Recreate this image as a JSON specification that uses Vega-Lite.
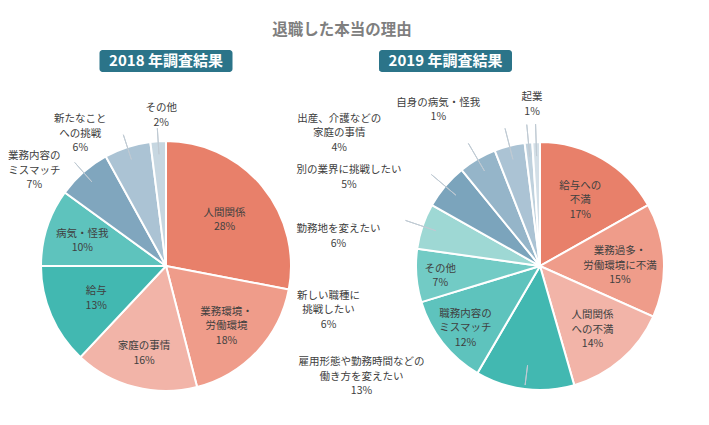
{
  "$schema": "https://vega.github.io/schema/vega-lite/v6.json",
  "background": "white",
  "padding": {"left": 5, "top": 22, "right": 3, "bottom": 0},
  "config": {
    "view": {"stroke": null},
    "font": "Noto Sans CJK JP",
    "text": {"font": "Noto Sans CJK JP", "fontSize": 10.5, "color": "#404040", "lineBreak": "\n", "lineHeight": 14.5, "align": "center", "baseline": "middle"}
  },
  "title": {"text": "退職した本当の理由", "fontSize": 15.5, "fontWeight": "bold", "color": "#7F7F7F", "font": "Noto Sans CJK JP", "anchor": "middle", "dx": -11, "offset": 12},
  "datasets": {
    "y2018": [
      {"k": "人間関係", "lab": "人間関係", "v": 28, "o": 1},
      {"k": "業務環境・労働環境", "lab": "業務環境・\n労働環境", "v": 18, "o": 2},
      {"k": "家庭の事情", "lab": "家庭の事情", "v": 16, "o": 3},
      {"k": "給与", "lab": "給与", "v": 13, "o": 4},
      {"k": "病気・怪我", "lab": "病気・怪我", "v": 10, "o": 5},
      {"k": "業務内容のミスマッチ", "lab": "業務内容の\nミスマッチ", "v": 7, "o": 6},
      {"k": "新たなことへの挑戦", "lab": "新たなこと\nへの挑戦", "v": 6, "o": 7},
      {"k": "その他", "lab": "その他", "v": 2, "o": 8}
    ],
    "y2019": [
      {"k": "給与への不満", "lab": "給与への\n不満", "v": 17, "o": 1},
      {"k": "業務過多・労働環境に不満", "lab": "業務過多・\n労働環境に不満", "v": 15, "o": 2},
      {"k": "人間関係への不満", "lab": "人間関係\nへの不満", "v": 14, "o": 3},
      {"k": "雇用形態や勤務時間などの働き方を変えたい", "lab": "雇用形態や勤務時間などの\n働き方を変えたい", "v": 13, "o": 4},
      {"k": "職務内容のミスマッチ", "lab": "職務内容の\nミスマッチ", "v": 12, "o": 5},
      {"k": "その他", "lab": "その他", "v": 7, "o": 6},
      {"k": "新しい職種に挑戦したい", "lab": "新しい職種に\n挑戦したい", "v": 6, "o": 7},
      {"k": "勤務地を変えたい", "lab": "勤務地を変えたい", "v": 6, "o": 8},
      {"k": "別の業界に挑戦したい", "lab": "別の業界に挑戦したい", "v": 5, "o": 9},
      {"k": "出産、介護などの家庭の事情", "lab": "出産、介護などの\n家庭の事情", "v": 4, "o": 10},
      {"k": "自身の病気・怪我", "lab": "自身の病気・怪我", "v": 1, "o": 11},
      {"k": "起業", "lab": "起業", "v": 1, "o": 12}
    ]
  },
  "concat": [
    {
      "width": 133, "height": 22,
      "view": {"fill": "#2B7489", "stroke": null, "cornerRadius": 3},
      "data": {"values": [{"h": "2018 年調査結果"}]},
      "mark": {"type": "text", "color": "white", "fontSize": 15, "fontWeight": "bold"},
      "encoding": {"text": {"field": "h"}}
    },
    {
      "width": 133, "height": 22,
      "view": {"fill": "#2B7489", "stroke": null, "cornerRadius": 3},
      "data": {"values": [{"h": "2019 年調査結果"}]},
      "mark": {"type": "text", "color": "white", "fontSize": 15, "fontWeight": "bold"},
      "encoding": {"text": {"field": "h"}}
    },
    {
      "width": 322, "height": 300,
      "data": {"name": "y2018"},
      "transform": [
        {"stack": "v", "groupby": [], "sort": [{"field": "o", "order": "ascending"}], "as": ["v0", "v1"]},
        {"calculate": "(datum.v0 + datum.v1) / 2", "as": "mid"},
        {"calculate": "datum.lab + '\\n' + datum.v + '%'", "as": "label"}
      ],
      "layer": [
        {
          "mark": {"type": "arc", "radius": 125, "stroke": "white", "strokeWidth": 2},
          "encoding": {
            "theta": {"field": "v0", "type": "quantitative", "scale": {"domain": [0, 100]}},
            "theta2": {"field": "v1"},
            "color": {"field": "k", "type": "nominal", "legend": null,
              "scale": {"domain": ["人間関係", "業務環境・労働環境", "家庭の事情", "給与", "病気・怪我", "業務内容のミスマッチ", "新たなことへの挑戦", "その他"],
                        "range": ["#E8806A", "#EF9C8A", "#F2B4A8", "#42B8B1", "#5EC3BD", "#80A6BE", "#ABC3D4", "#C7D7E1"]}}
          }
        },
        {
          "transform": [{"filter": {"field": "k", "oneOf": ["業務内容のミスマッチ", "新たなことへの挑戦", "その他"]}}],
          "mark": {"type": "arc", "radius": 138, "radius2": 112, "filled": false, "stroke": "#BFCAD3", "strokeWidth": 1},
          "encoding": {
            "theta": {"field": "mid", "type": "quantitative", "scale": {"domain": [0, 100]}},
            "theta2": {"field": "mid"}
          }
        },
        {
          "transform": [{"filter": {"field": "k", "oneOf": ["人間関係", "給与"]}}],
          "mark": {"type": "text", "radius": 76, "dy": -5},
          "encoding": {
            "theta": {"field": "mid", "type": "quantitative", "scale": {"domain": [0, 100]}},
            "text": {"field": "label"}
          }
        },
        {
          "transform": [{"filter": {"field": "k", "oneOf": ["家庭の事情", "病気・怪我"]}}],
          "mark": {"type": "text", "radius": 88, "dy": -5},
          "encoding": {
            "theta": {"field": "mid", "type": "quantitative", "scale": {"domain": [0, 100]}},
            "text": {"field": "label"}
          }
        },
        {
          "transform": [{"filter": {"field": "k", "equal": "業務環境・労働環境"}}],
          "mark": {"type": "text", "radius": 83, "dy": -11},
          "encoding": {
            "theta": {"field": "mid", "type": "quantitative", "scale": {"domain": [0, 100]}},
            "text": {"field": "label"}
          }
        },
        {
          "transform": [{"filter": {"field": "k", "equal": "業務内容のミスマッチ"}}],
          "mark": {"type": "text", "radius": 125, "dx": -49, "dy": -16},
          "encoding": {"theta": {"field": "mid", "type": "quantitative", "scale": {"domain": [0, 100]}}, "text": {"field": "label"}}
        },
        {
          "transform": [{"filter": {"field": "k", "equal": "新たなことへの挑戦"}}],
          "mark": {"type": "text", "radius": 125, "dx": -47, "dy": -28},
          "encoding": {"theta": {"field": "mid", "type": "quantitative", "scale": {"domain": [0, 100]}}, "text": {"field": "label"}}
        },
        {
          "transform": [{"filter": {"field": "k", "equal": "その他"}}],
          "mark": {"type": "text", "radius": 125, "dx": 3, "dy": -33},
          "encoding": {"theta": {"field": "mid", "type": "quantitative", "scale": {"domain": [0, 100]}}, "text": {"field": "label"}}
        }
      ]
    },
    {
      "width": 322, "height": 300,
      "data": {"name": "y2019"},
      "transform": [
        {"stack": "v", "groupby": [], "sort": [{"field": "o", "order": "ascending"}], "as": ["v0", "v1"]},
        {"calculate": "(datum.v0 + datum.v1) / 2", "as": "mid"},
        {"calculate": "datum.lab + '\\n' + datum.v + '%'", "as": "label"}
      ],
      "layer": [
        {
          "mark": {"type": "arc", "radius": 124, "stroke": "white", "strokeWidth": 2},
          "encoding": {
            "theta": {"field": "v0", "type": "quantitative", "scale": {"domain": [0, 101]}},
            "theta2": {"field": "v1"},
            "color": {"field": "k", "type": "nominal", "legend": null,
              "scale": {"domain": ["給与への不満", "業務過多・労働環境に不満", "人間関係への不満", "雇用形態や勤務時間などの働き方を変えたい", "職務内容のミスマッチ", "その他", "新しい職種に挑戦したい", "勤務地を変えたい", "別の業界に挑戦したい", "出産、介護などの家庭の事情", "自身の病気・怪我", "起業"],
                        "range": ["#E8806A", "#EF9C8A", "#F2B4A8", "#42B8B1", "#5EC3BD", "#72CBC5", "#9ED8D4", "#7BA4BC", "#95B5C9", "#ABC3D4", "#BFD1DD", "#D3DFE7"]}}
          }
        },
        {
          "transform": [{"filter": {"field": "k", "oneOf": ["新しい職種に挑戦したい", "勤務地を変えたい", "別の業界に挑戦したい", "出産、介護などの家庭の事情", "自身の病気・怪我", "起業"]}}],
          "mark": {"type": "arc", "radius": 142, "radius2": 110, "filled": false, "stroke": "#BFCAD3", "strokeWidth": 1},
          "encoding": {
            "theta": {"field": "mid", "type": "quantitative", "scale": {"domain": [0, 101]}},
            "theta2": {"field": "mid"}
          }
        },
        {
          "transform": [{"filter": {"field": "k", "equal": "雇用形態や勤務時間などの働き方を変えたい"}}],
          "mark": {"type": "arc", "radius": 120, "radius2": 100, "filled": false, "stroke": "#BFCAD3", "strokeWidth": 1},
          "encoding": {
            "theta": {"field": "mid", "type": "quantitative", "scale": {"domain": [0, 101]}},
            "theta2": {"field": "mid"}
          }
        },
        {
          "transform": [{"filter": {"field": "k", "oneOf": ["給与への不満", "業務過多・労働環境に不満", "人間関係への不満"]}}],
          "mark": {"type": "text", "radius": 80, "dy": -11},
          "encoding": {
            "theta": {"field": "mid", "type": "quantitative", "scale": {"domain": [0, 101]}},
            "text": {"field": "label"}
          }
        },
        {
          "transform": [{"filter": {"field": "k", "equal": "職務内容のミスマッチ"}}],
          "mark": {"type": "text", "radius": 95, "dy": -11},
          "encoding": {
            "theta": {"field": "mid", "type": "quantitative", "scale": {"domain": [0, 101]}},
            "text": {"field": "label"}
          }
        },
        {
          "transform": [{"filter": {"field": "k", "equal": "その他"}}],
          "mark": {"type": "text", "radius": 100, "dy": -5},
          "encoding": {
            "theta": {"field": "mid", "type": "quantitative", "scale": {"domain": [0, 101]}},
            "text": {"field": "label"}
          }
        },
        {
          "transform": [{"filter": {"field": "k", "equal": "雇用形態や勤務時間などの働き方を変えたい"}}],
          "mark": {"type": "text", "radius": 125, "dx": -163, "dy": -28},
          "encoding": {"theta": {"field": "mid", "type": "quantitative", "scale": {"domain": [0, 101]}}, "text": {"field": "label"}}
        },
        {
          "transform": [{"filter": {"field": "k", "equal": "新しい職種に挑戦したい"}}],
          "mark": {"type": "text", "radius": 125, "dx": -93, "dy": 70},
          "encoding": {"theta": {"field": "mid", "type": "quantitative", "scale": {"domain": [0, 101]}}, "text": {"field": "label"}}
        },
        {
          "transform": [{"filter": {"field": "k", "equal": "勤務地を変えたい"}}],
          "mark": {"type": "text", "radius": 125, "dx": -106, "dy": 44},
          "encoding": {"theta": {"field": "mid", "type": "quantitative", "scale": {"domain": [0, 101]}}, "text": {"field": "label"}}
        },
        {
          "transform": [{"filter": {"field": "k", "equal": "別の業界に挑戦したい"}}],
          "mark": {"type": "text", "radius": 125, "dx": -128, "dy": 12},
          "encoding": {"theta": {"field": "mid", "type": "quantitative", "scale": {"domain": [0, 101]}}, "text": {"field": "label"}}
        },
        {
          "transform": [{"filter": {"field": "k", "equal": "出産、介護などの家庭の事情"}}],
          "mark": {"type": "text", "radius": 125, "dx": -170, "dy": -26},
          "encoding": {"theta": {"field": "mid", "type": "quantitative", "scale": {"domain": [0, 101]}}, "text": {"field": "label"}}
        },
        {
          "transform": [{"filter": {"field": "k", "equal": "自身の病気・怪我"}}],
          "mark": {"type": "text", "radius": 125, "dx": -90, "dy": -39},
          "encoding": {"theta": {"field": "mid", "type": "quantitative", "scale": {"domain": [0, 101]}}, "text": {"field": "label"}}
        },
        {
          "transform": [{"filter": {"field": "k", "equal": "起業"}}],
          "mark": {"type": "text", "radius": 125, "dx": -4, "dy": -44},
          "encoding": {"theta": {"field": "mid", "type": "quantitative", "scale": {"domain": [0, 101]}}, "text": {"field": "label"}}
        }
      ]
    }
  ],
  "columns": 2,
  "spacing": {"row": 44, "column": 52},
  "center": true,
  "bounds": "flush",
  "resolve": {"scale": {"color": "independent", "theta": "independent"}}
}
